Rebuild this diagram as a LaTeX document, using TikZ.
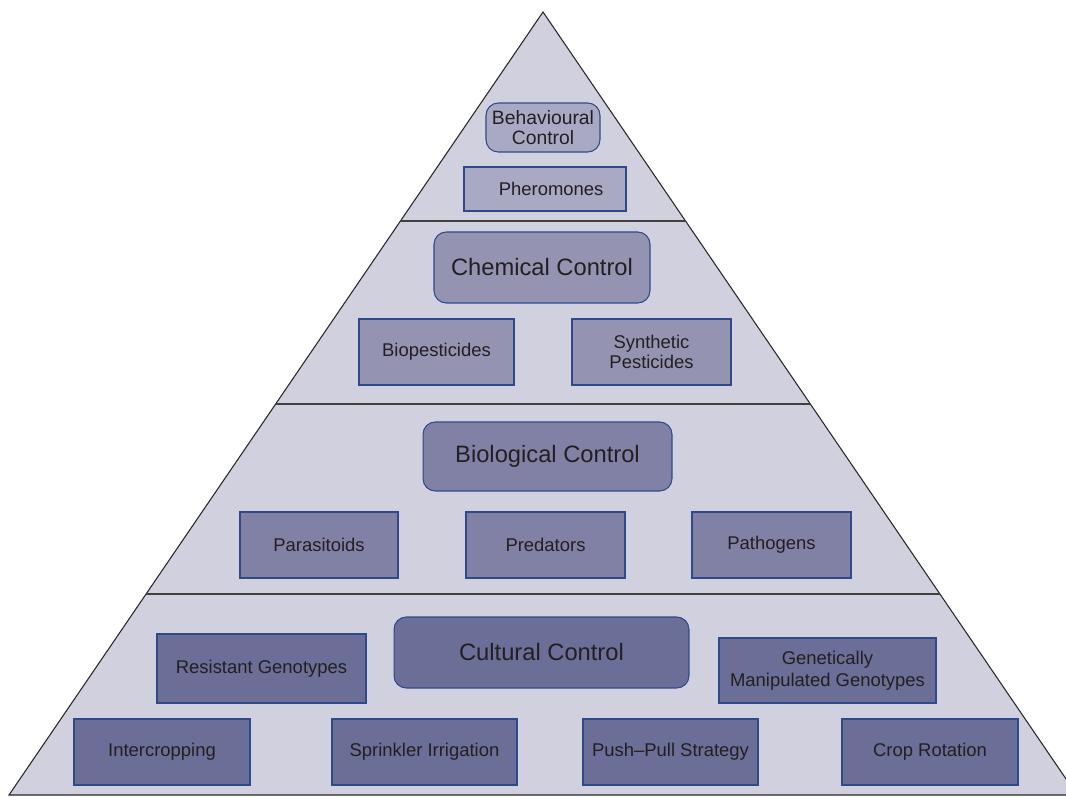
\documentclass[tikz,border=0pt]{standalone}
\usepackage{fontspec}
\setmainfont{Liberation Sans}
\usetikzlibrary{calc}

\definecolor{pyrbg}{HTML}{D0D0DE}
\definecolor{tierA}{HTML}{A9A9C4}
\definecolor{tierB}{HTML}{9494B2}
\definecolor{tierC}{HTML}{8181A6}
\definecolor{tierD}{HTML}{6B6E96}
\definecolor{boxline}{HTML}{2E4A8A}
\definecolor{txt}{HTML}{231F20}

\tikzset{
  item/.style={draw=boxline, line width=0.6pt, text=txt, align=center,
    inner sep=0pt, font=\fontsize{10.5}{11.8}\selectfont},
  head/.style={item, rounded corners=7pt, font=\fontsize{13.5}{15}\selectfont}
}

\begin{document}
\begin{tikzpicture}[x=0.02cm, y=-0.02cm]
  \useasboundingbox (0,0) rectangle (1066,797);
  \clip (0,0) rectangle (1066,797);
  % pyramid and tier dividers
  \coordinate (apex) at (543,12);
  \coordinate (bl) at (9,795);
  \coordinate (br) at (1077,795);
  \draw[fill=pyrbg, draw=black!85, line width=0.6pt] (apex) -- (bl) -- (br) -- cycle;
  \foreach \t in {0.2669, 0.5006, 0.7433}
    \draw[black!75, line width=0.8pt] ($(apex)!\t!(bl)$) -- ($(apex)!\t!(br)$);
  % Behavioural tier
  \node[head, fill=tierA, minimum width=2.28cm, minimum height=0.98cm,
    font=\fontsize{11}{11.5}\selectfont] (behav) at (543,127.5) {Behavioural\\Control};
  \node[item, fill=tierA, minimum width=3.24cm, minimum height=0.88cm] (phero) at (545,189) {\hspace*{7pt}Pheromones};
  % Chemical tier
  \node[head, fill=tierB, minimum width=4.32cm, minimum height=1.42cm] (chem) at (542,267.5) {Chemical Control};
  \node[item, fill=tierB, minimum width=3.1cm, minimum height=1.32cm] (biopest) at (436.5,352) {Biopesticides};
  \node[item, fill=tierB, minimum width=3.18cm, minimum height=1.32cm] (synpest) at (651.5,352) {Synthetic\\Pesticides};
  % Biological tier
  \node[head, fill=tierC, minimum width=4.98cm, minimum height=1.38cm] (bio) at (547.5,456.5) {Biological Control};
  \node[item, fill=tierC, minimum width=3.16cm, minimum height=1.32cm] (parasit) at (319,545) {Parasitoids};
  \node[item, fill=tierC, minimum width=3.18cm, minimum height=1.32cm] (pred) at (545.5,545) {Predators};
  \node[item, fill=tierC, minimum width=3.18cm, minimum height=1.32cm] (patho) at (771.5,545) {Pathogens};
  % Cultural tier
  \node[head, fill=tierD, minimum width=5.9cm, minimum height=1.42cm] (cult) at (541.5,652.5) {Cultural Control};
  \node[item, fill=tierD, minimum width=4.18cm, minimum height=1.38cm] (resist) at (261.5,668.5) {Resistant Genotypes};
  \node[item, fill=tierD, minimum width=4.34cm, minimum height=1.3cm,
    font=\fontsize{10.5}{12.3}\selectfont] (gmgeno) at (827.5,670.5) {Genetically\\Manipulated Genotypes};
  \node[item, fill=tierD, minimum width=3.52cm, minimum height=1.32cm] (intercrop) at (162,752) {Intercropping};
  \node[item, fill=tierD, minimum width=3.7cm, minimum height=1.32cm] (sprinkler) at (424.5,752) {Sprinkler Irrigation};
  \node[item, fill=tierD, minimum width=3.5cm, minimum height=1.32cm] (pushpull) at (670.5,752) {Push–Pull Strategy};
  \node[item, fill=tierD, minimum width=3.52cm, minimum height=1.32cm] (rotation) at (930,752) {Crop Rotation};
\end{tikzpicture}
\end{document}
